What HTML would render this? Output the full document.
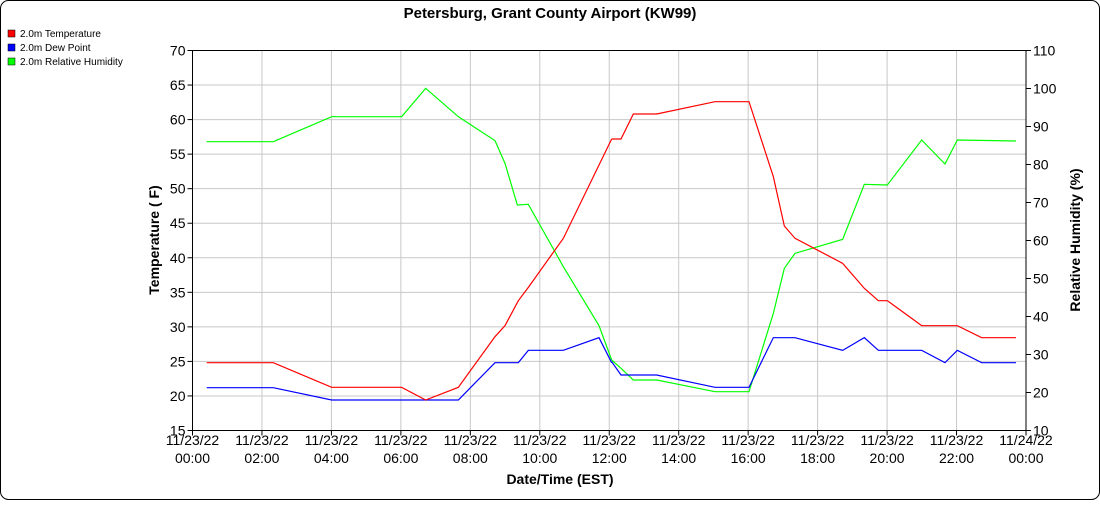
<!DOCTYPE html>
<html><head><style>
html,body{margin:0;padding:0;background:#fff}
body{width:1100px;height:500px;overflow:hidden;font-family:"Liberation Sans",Arial,sans-serif}
</style></head><body>
<svg width="1100" height="500" xmlns="http://www.w3.org/2000/svg" font-family="Liberation Sans, Arial, sans-serif">
<rect x="0.5" y="0.5" width="1099" height="499" rx="8" fill="#fff" stroke="#000"/>
<text x="550" y="18" text-anchor="middle" font-size="15" font-weight="bold">Petersburg, Grant County Airport (KW99)</text>
<g font-size="10">
<rect x="8" y="30" width="7" height="7" fill="#f00" stroke="#000" stroke-width="0.5"/><text x="20" y="37">2.0m Temperature</text>
<rect x="8" y="44" width="7" height="7" fill="#00f" stroke="#000" stroke-width="0.5"/><text x="20" y="51">2.0m Dew Point</text>
<rect x="8" y="58" width="7" height="7" fill="#0f0" stroke="#000" stroke-width="0.5"/><text x="20" y="65">2.0m Relative Humidity</text>
</g>
<g stroke="#c8c8c8" stroke-width="1" id="grid"></g>
<g id="lab" font-size="14"></g>
<rect x="192.5" y="50.5" width="833.5" height="380" fill="none" stroke="#000"/>
<g fill="none" stroke-width="1.2">
<g transform="translate(180,40) scale(0.3333333)">
<polyline vector-effect="non-scaling-stroke" stroke="#0f0" points="80,305 280,305 455,230 665,230 737,145 835,230 945,302 975,370 1012,495 1045,493 1150,680 1257,857 1295,960"/>
<polyline vector-effect="non-scaling-stroke" stroke="#00f" points="80,1043 280,1043 455,1080 835,1080 945,968 1015,968 1045,931 1150,931 1257,893 1295,968"/>
<polyline vector-effect="non-scaling-stroke" stroke="#f00" points="80,968 280,968 455,1042 665,1042 737,1080 835,1042 945,890 975,857 1015,782 1045,742 1150,595 1295,297"/>
</g>
<g transform="translate(600,40) scale(0.3333333)">
<polyline vector-effect="non-scaling-stroke" stroke="#0f0" points="35,960 63,985 100,1020 170,1020 345,1055 447,1055 520,820 553,685 585,640 728,598 793,433 862,435 965,300 1035,372 1072,300 1248,303"/>
<polyline vector-effect="non-scaling-stroke" stroke="#00f" points="35,965 63,1005 170,1005 345,1042 447,1042 520,893 585,893 728,931 793,893 835,931 965,931 1035,968 1072,931 1145,968 1248,968"/>
<polyline vector-effect="non-scaling-stroke" stroke="#f00" points="35,297 63,297 100,222 170,222 345,185 447,185 520,410 553,558 585,595 728,670 793,745 835,782 862,782 965,857 1072,857 1145,893 1248,893"/>
</g>
</g>
<text x="560" y="484" text-anchor="middle" font-size="14" font-weight="bold">Date/Time (EST)</text>
<text transform="translate(159,240) rotate(-90)" text-anchor="middle" font-size="14" font-weight="bold">Temperature ( F)</text>
<text transform="translate(1080,240) rotate(-90)" text-anchor="middle" font-size="14" font-weight="bold">Relative Humidity (%)</text>
</svg>
<script>
const ns="http://www.w3.org/2000/svg",g=document.getElementById('grid'),l=document.getElementById('lab');
function el(p,t,a,txt){const e=document.createElementNS(ns,t);for(const k in a)e.setAttribute(k,a[k]);if(txt!==undefined)e.textContent=txt;p.appendChild(e);return e;}
const x0=192.5,x1=1026,y0=50.5,y1=430.5;
for(let i=0;i<=11;i++){const y=y1-(y1-y0)*i/11;
 if(i>0&&i<11)el(g,'line',{x1:x0,x2:x1,y1:y,y2:y});
 el(l,'line',{x1:x0-5,x2:x0,y1:y,y2:y,stroke:'#000'});
 el(l,'text',{x:x0-7,y:y+5,'text-anchor':'end'},15+5*i);}
for(let i=0;i<=10;i++){const y=y1-(y1-y0)*i/10;
 el(l,'line',{x1:x1,x2:x1+5,y1:y,y2:y,stroke:'#000'});
 el(l,'text',{x:x1+7,y:y+5},10+10*i);}
for(let i=0;i<=12;i++){const x=x0+(x1-x0)*i/12;
 if(i>0&&i<12)el(g,'line',{x1:x,x2:x,y1:y0,y2:y1});
 el(l,'line',{x1:x,x2:x,y1:y1,y2:y1+5,stroke:'#000'});
 el(l,'text',{x:x,y:445,'text-anchor':'middle'},i==12?'11/24/22':'11/23/22');
 el(l,'text',{x:x,y:463,'text-anchor':'middle'},String((i*2)%24).padStart(2,'0')+':00');}
</script>
</body></html>
